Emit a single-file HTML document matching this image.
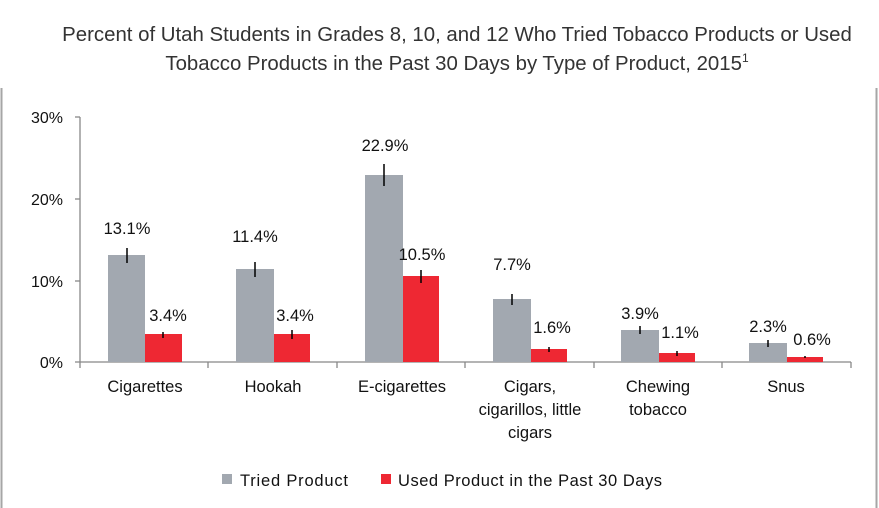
<!DOCTYPE html>
<html><head><style>
body{margin:0;background:#fff;}
svg{display:block;font-family:"Liberation Sans",sans-serif;}
</style></head><body>
<svg width="879" height="508" viewBox="0 0 879 508">
<rect x="0" y="0" width="879" height="508" fill="#fff"/>
<line x1="1.5" y1="88" x2="1.5" y2="508" stroke="#a6a6a6" stroke-width="2"/>
<line x1="876.5" y1="88" x2="876.5" y2="508" stroke="#a6a6a6" stroke-width="2"/>
<text x="457" y="41" text-anchor="middle" font-size="20.4" fill="#333">Percent of Utah Students in Grades 8, 10, and 12 Who Tried Tobacco Products or Used</text>
<text x="457" y="70" text-anchor="middle" font-size="20.4" fill="#333">Tobacco Products in the Past 30 Days by Type of Product, 2015<tspan font-size="12" dy="-8">1</tspan></text>
<g stroke="#888" stroke-width="1.3">
<line x1="80" y1="117" x2="80" y2="362"/>
<line x1="75" y1="117" x2="80" y2="117"/>
<line x1="75" y1="199" x2="80" y2="199"/>
<line x1="75" y1="281" x2="80" y2="281"/>
<line x1="75" y1="362" x2="851" y2="362"/>
<line x1="80" y1="362" x2="80" y2="368"/>
<line x1="208" y1="362" x2="208" y2="368"/>
<line x1="337" y1="362" x2="337" y2="368"/>
<line x1="465" y1="362" x2="465" y2="368"/>
<line x1="594" y1="362" x2="594" y2="368"/>
<line x1="722" y1="362" x2="722" y2="368"/>
<line x1="851" y1="362" x2="851" y2="368"/>
</g>
<g font-size="16" fill="#111" text-anchor="end">
<text x="63" y="123">30%</text><text x="63" y="205">20%</text><text x="63" y="287">10%</text><text x="63" y="368">0%</text>
</g>
<g font-size="16.5" fill="#111" text-anchor="middle">
<rect x="108" y="255" width="37" height="107" fill="#a2a8b0"/><rect x="145" y="334" width="37" height="28" fill="#ee2833"/>
<rect x="236" y="269" width="38" height="93" fill="#a2a8b0"/><rect x="274" y="334" width="36" height="28" fill="#ee2833"/>
<rect x="365" y="175" width="38" height="187" fill="#a2a8b0"/><rect x="403" y="276" width="36" height="86" fill="#ee2833"/>
<rect x="493" y="299" width="38" height="63" fill="#a2a8b0"/><rect x="531" y="349" width="36" height="13" fill="#ee2833"/>
<rect x="621" y="330" width="38" height="32" fill="#a2a8b0"/><rect x="659" y="353" width="36" height="9" fill="#ee2833"/>
<rect x="749" y="343" width="38" height="19" fill="#a2a8b0"/><rect x="787" y="357" width="36" height="5" fill="#ee2833"/>
<g stroke="#000" stroke-width="1.5">
<line x1="127" y1="248" x2="127" y2="263"/><line x1="163" y1="332" x2="163" y2="338"/>
<line x1="255" y1="262" x2="255" y2="277"/><line x1="292" y1="330" x2="292" y2="339"/>
<line x1="384" y1="164" x2="384" y2="186"/><line x1="421" y1="270" x2="421" y2="283"/>
<line x1="512" y1="294" x2="512" y2="305"/><line x1="549" y1="347" x2="549" y2="352"/>
<line x1="640" y1="326" x2="640" y2="334"/><line x1="677" y1="351" x2="677" y2="356"/>
<line x1="768" y1="340" x2="768" y2="347"/><line x1="805" y1="356" x2="805" y2="358"/>
</g>
<text x="127" y="234">13.1%</text><text x="168" y="321">3.4%</text>
<text x="255" y="242">11.4%</text><text x="295" y="321">3.4%</text>
<text x="385" y="151">22.9%</text><text x="422" y="260">10.5%</text>
<text x="512" y="270">7.7%</text><text x="552" y="333">1.6%</text>
<text x="640" y="319">3.9%</text><text x="680" y="338">1.1%</text>
<text x="768" y="332">2.3%</text><text x="812" y="345">0.6%</text>
<text x="145" y="392">Cigarettes</text>
<text x="273" y="392">Hookah</text>
<text x="402" y="392">E-cigarettes</text>
<text x="530" y="392">Cigars,</text><text x="530" y="415">cigarillos, little</text><text x="530" y="438">cigars</text>
<text x="658" y="392">Chewing</text><text x="658" y="415">tobacco</text>
<text x="786" y="392">Snus</text>
</g>
<rect x="222" y="474" width="10" height="10" fill="#a2a8b0"/>
<text x="240" y="486" font-size="16.5" fill="#111" textLength="108">Tried Product</text>
<rect x="381" y="474" width="10" height="10" fill="#ee2833"/>
<text x="398" y="486" font-size="16.5" fill="#111" textLength="264">Used Product in the Past 30 Days</text>
</svg>
</body></html>
